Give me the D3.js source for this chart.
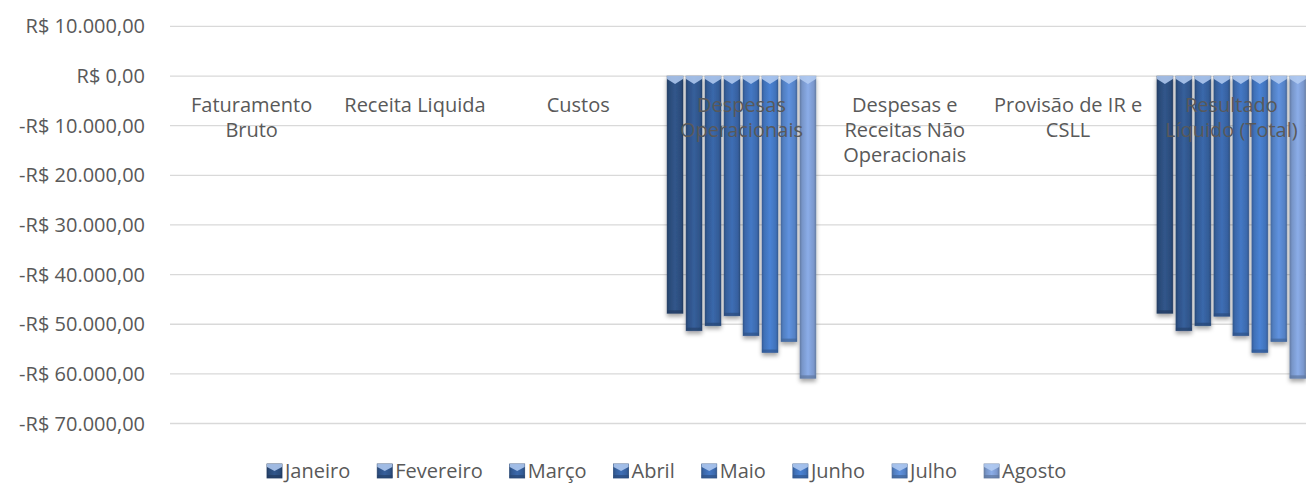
<!DOCTYPE html>
<html>
<head>
<meta charset="utf-8">
<script src="https://cdn.jsdelivr.net/npm/d3@7"></script>
<style>
  body { margin: 0; background: #fff; overflow: hidden; }
  text { font-family: "Open Sans", sans-serif; fill: #595959; }
</style>
</head>
<body>
<div id="chart"></div>
<script>
// Resultado mensal - barras agrupadas por categoria (valores negativos)

const categories = [
  "Faturamento Bruto",
  "Receita Liquida",
  "Custos",
  "Despesas Operacionais",
  "Despesas e Receitas Não Operacionais",
  "Provisão de IR e CSLL",
  "Resultado Líquido (Total)"
];

const months = ["Janeiro", "Fevereiro", "Março", "Abril", "Maio", "Junho", "Julho", "Agosto"];

// one array per category, one value per month
const faturamentoBruto = [0, 0, 0, 0, 0, 0, 0, 0];
const receitaLiquida = [0, 0, 0, 0, 0, 0, 0, 0];
const custos = [0, 0, 0, 0, 0, 0, 0, 0];
const despesasOperacionais = [-47800, -51300, -50300, -48300, -52300, -55700, -53500, -60900];
const despesasNaoOperacionais = [0, 0, 0, 0, 0, 0, 0, 0];
const provisaoIR = [0, 0, 0, 0, 0, 0, 0, 0];
const resultadoLiquido = [-47800, -51300, -50300, -48400, -52300, -55700, -53500, -60900];

const yTicks = [10000, 0, -10000, -20000, -30000, -40000, -50000, -60000, -70000];

const monthColors = ["#2d4f7f", "#31578e", "#355f9c", "#3965a6", "#3e6eb4", "#4377c2", "#5786cc", "#7f9ed4"];

const seriesByCategory = [
  faturamentoBruto, receitaLiquida, custos, despesasOperacionais,
  despesasNaoOperacionais, provisaoIR, resultadoLiquido
];

const W = 1306, H = 484;
const plot = { left: 170, right: 1313, top: 26.4, bottom: 423.5 };

const svg = d3.select("#chart")
  .append("svg")
  .attr("width", W)
  .attr("height", H);

const defs = svg.append("defs");

defs.append("filter")
  .attr("id", "shadow")
  .attr("x", "-30%").attr("y", "-5%")
  .attr("width", "160%").attr("height", "115%")
  .append("feDropShadow")
  .attr("dx", 0).attr("dy", 3)
  .attr("stdDeviation", 2)
  .attr("flood-color", "#000")
  .attr("flood-opacity", 0.35);

monthColors.forEach((c, i) => {
  const base = d3.color(c);
  const g = defs.append("linearGradient")
    .attr("id", "grad" + i)
    .attr("x1", "0%").attr("x2", "100%")
    .attr("y1", "0%").attr("y2", "0%");
  g.append("stop").attr("offset", "0%").attr("stop-color", base.darker(0.6));
  g.append("stop").attr("offset", "15%").attr("stop-color", base.darker(0.15));
  g.append("stop").attr("offset", "50%").attr("stop-color", base.brighter(0.25));
  g.append("stop").attr("offset", "85%").attr("stop-color", base.darker(0.1));
  g.append("stop").attr("offset", "100%").attr("stop-color", base.darker(0.6));
});

const y = d3.scaleLinear()
  .domain([10000, -70000])
  .range([plot.top, plot.bottom]);

const x0 = d3.scaleBand()
  .domain(categories)
  .range([plot.left, plot.right])
  .paddingInner(0)
  .paddingOuter(0);

const x1 = d3.scaleBand()
  .domain(months)
  .range([0, x0.bandwidth()])
  .paddingInner(0.158)
  .paddingOuter(0.379);

// gridlines
svg.append("g")
  .selectAll("line")
  .data(yTicks)
  .join("line")
  .attr("x1", plot.left)
  .attr("x2", W)
  .attr("y1", d => y(d))
  .attr("y2", d => y(d))
  .attr("stroke", "#d9d9d9")
  .attr("stroke-width", 1.3);

// y axis labels
const fmt = d3.formatLocale({
  decimal: ",", thousands: ".", grouping: [3], currency: ["R$ ", ""]
}).format(",.2f");

svg.append("g")
  .selectAll("text")
  .data(yTicks)
  .join("text")
  .attr("x", 145)
  .attr("y", d => y(d))
  .attr("dy", "0.35em")
  .attr("text-anchor", "end")
  .style("font-size", "20px")
  .text(d => (d < 0 ? "-" : "") + "R$ " + fmt(Math.abs(d)));

// bars
const groups = svg.append("g")
  .selectAll("g")
  .data(categories)
  .join("g")
  .attr("transform", d => `translate(${x0(d)},0)`);

groups.each(function (cat, ci) {
  const vals = seriesByCategory[ci];
  const g = d3.select(this);
  const bw = x1.bandwidth();
  months.forEach((m, mi) => {
    const v = vals[mi];
    if (v === 0) return;
    const bx = x1(m);
    const yTop = y(Math.max(0, v));
    const yBot = y(Math.min(0, v));
    const bar = g.append("g").attr("filter", "url(#shadow)");
    bar.append("rect")
      .attr("x", bx)
      .attr("y", yTop)
      .attr("width", bw)
      .attr("height", yBot - yTop)
      .attr("fill", `url(#grad${mi})`)
      .attr("stroke", d3.color(monthColors[mi]).darker(0.9))
      .attr("stroke-opacity", 0.5)
      .attr("stroke-width", 0.8);
    // light chevron at the top of each bar
    bar.append("path")
      .attr("d", `M${bx},${yTop} L${bx + bw},${yTop} L${bx + bw},${yTop + 3}
                  L${bx + bw / 2},${yTop + 8} L${bx},${yTop + 3} Z`)
      .attr("fill", "#b4cdf2")
      .attr("opacity", 0.85);
    // darker bottom edge
    bar.append("rect")
      .attr("x", bx)
      .attr("y", yBot - 3)
      .attr("width", bw)
      .attr("height", 3)
      .attr("fill", d3.color(monthColors[mi]).darker(0.8))
      .attr("opacity", 0.7);
  });
});

// category labels, wrapped, drawn below the zero line
const labels = svg.append("g")
  .selectAll("text")
  .data(categories)
  .join("text")
  .attr("x", d => x0(d) + x0.bandwidth() / 2)
  .attr("y", y(0) + 36)
  .attr("text-anchor", "middle")
  .style("font-size", "20px");

labels.each(function (d) {
  const t = d3.select(this);
  const words = d.split(" ");
  const maxW = 156;
  let line = [];
  let tspan = t.append("tspan").attr("x", t.attr("x")).attr("dy", 0);
  words.forEach(w => {
    line.push(w);
    tspan.text(line.join(" "));
    if (tspan.node().getComputedTextLength() > maxW && line.length > 1) {
      line.pop();
      tspan.text(line.join(" "));
      line = [w];
      tspan = t.append("tspan").attr("x", t.attr("x")).attr("dy", 25).text(w);
    }
  });
});

// legend
const legend = svg.append("g").attr("transform", `translate(267,471)`);
let lx = 0;
months.forEach((m, i) => {
  const item = legend.append("g").attr("transform", `translate(${lx},0)`);
  const base = d3.color(monthColors[i]);
  item.append("rect")
    .attr("x", 0).attr("y", -7)
    .attr("width", 15).attr("height", 14)
    .attr("fill", `url(#grad${i})`)
    .attr("stroke", base.darker(0.8))
    .attr("stroke-width", 0.8);
  item.append("path")
    .attr("d", "M0,-7 L15,-7 L15,-4 L7.5,0 L0,-4 Z")
    .attr("fill", "#b4cdf2")
    .attr("opacity", 0.85);
  item.append("rect")
    .attr("x", 0).attr("y", 4)
    .attr("width", 15).attr("height", 3)
    .attr("fill", base.darker(0.8))
    .attr("opacity", 0.7);
  const txt = item.append("text")
    .attr("x", 18)
    .attr("y", 0)
    .attr("dy", "0.35em")
    .style("font-size", "20px")
    .text(m);
  lx += 18 + txt.node().getComputedTextLength() + 27;
});
</script>
</body>
</html>
